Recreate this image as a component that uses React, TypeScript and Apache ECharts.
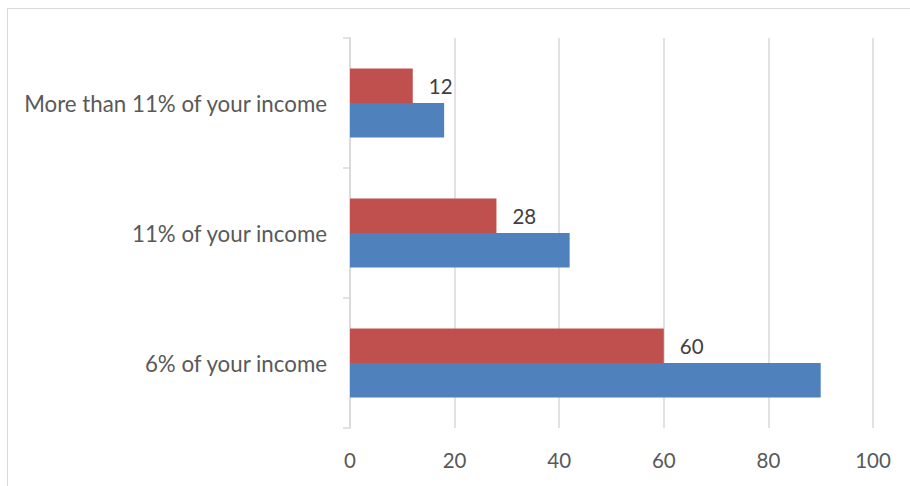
import React, { useEffect, useRef } from "react";
import * as echarts from "echarts";

const categories = ["6% of your income", "11% of your income", "More than 11% of your income"];
const redValues = [60, 28, 12];
const blueValues = [90, 42, 18];
const xTicks = [0, 20, 40, 60, 80, 100];

const FONT = "Lato, sans-serif";
const TEXT = "#595959";

export default function App() {
  const ref = useRef<HTMLDivElement>(null);
  useEffect(() => {
    if (!ref.current) return;
    const chart = echarts.init(ref.current, null, { renderer: "svg" });
    chart.setOption({
      animation: false,
      backgroundColor: "#ffffff",
      graphic: [
        {
          type: "rect",
          shape: { x: 7.5, y: 8.5, width: 950, height: 520 },
          style: { fill: "none", stroke: "#d9d9d9", lineWidth: 1 },
          silent: true,
        },
      ],
      grid: { left: 350, right: 37, top: 38, bottom: 58, containLabel: false },
      xAxis: {
        type: "value",
        min: xTicks[0],
        max: xTicks[xTicks.length - 1],
        interval: 20,
        axisLine: { show: false },
        axisTick: { show: false },
        splitLine: { show: true, lineStyle: { color: "#d9d9d9", width: 1.5 } },
        axisLabel: { color: TEXT, fontFamily: FONT, fontSize: 20.5, margin: 21 },
      },
      yAxis: {
        type: "category",
        data: categories,
        axisLine: { show: true, lineStyle: { color: "#d9d9d9", width: 1.5 } },
        axisTick: { show: true, length: 7, lineStyle: { color: "#d9d9d9", width: 1.5 } },
        axisLabel: { color: TEXT, fontFamily: FONT, fontSize: 22.3, margin: 23 },
      },
      series: [
        {
          type: "bar",
          data: redValues,
          barWidth: 34.5,
          barGap: "0%",
          itemStyle: { color: "#C0504D" },
          label: {
            show: true,
            position: "right",
            distance: 16,
            color: "#404040",
            fontFamily: FONT,
            fontSize: 20.5,
          },
        },
        {
          type: "bar",
          data: blueValues,
          barWidth: 34.5,
          barGap: "0%",
          itemStyle: { color: "#4F81BD" },
        },
      ],
    });
    return () => chart.dispose();
  }, []);
  return (
    <div
      ref={ref}
      style={{ position: "absolute", left: 0, top: 0, width: 910, height: 486 }}
    />
  );
}
